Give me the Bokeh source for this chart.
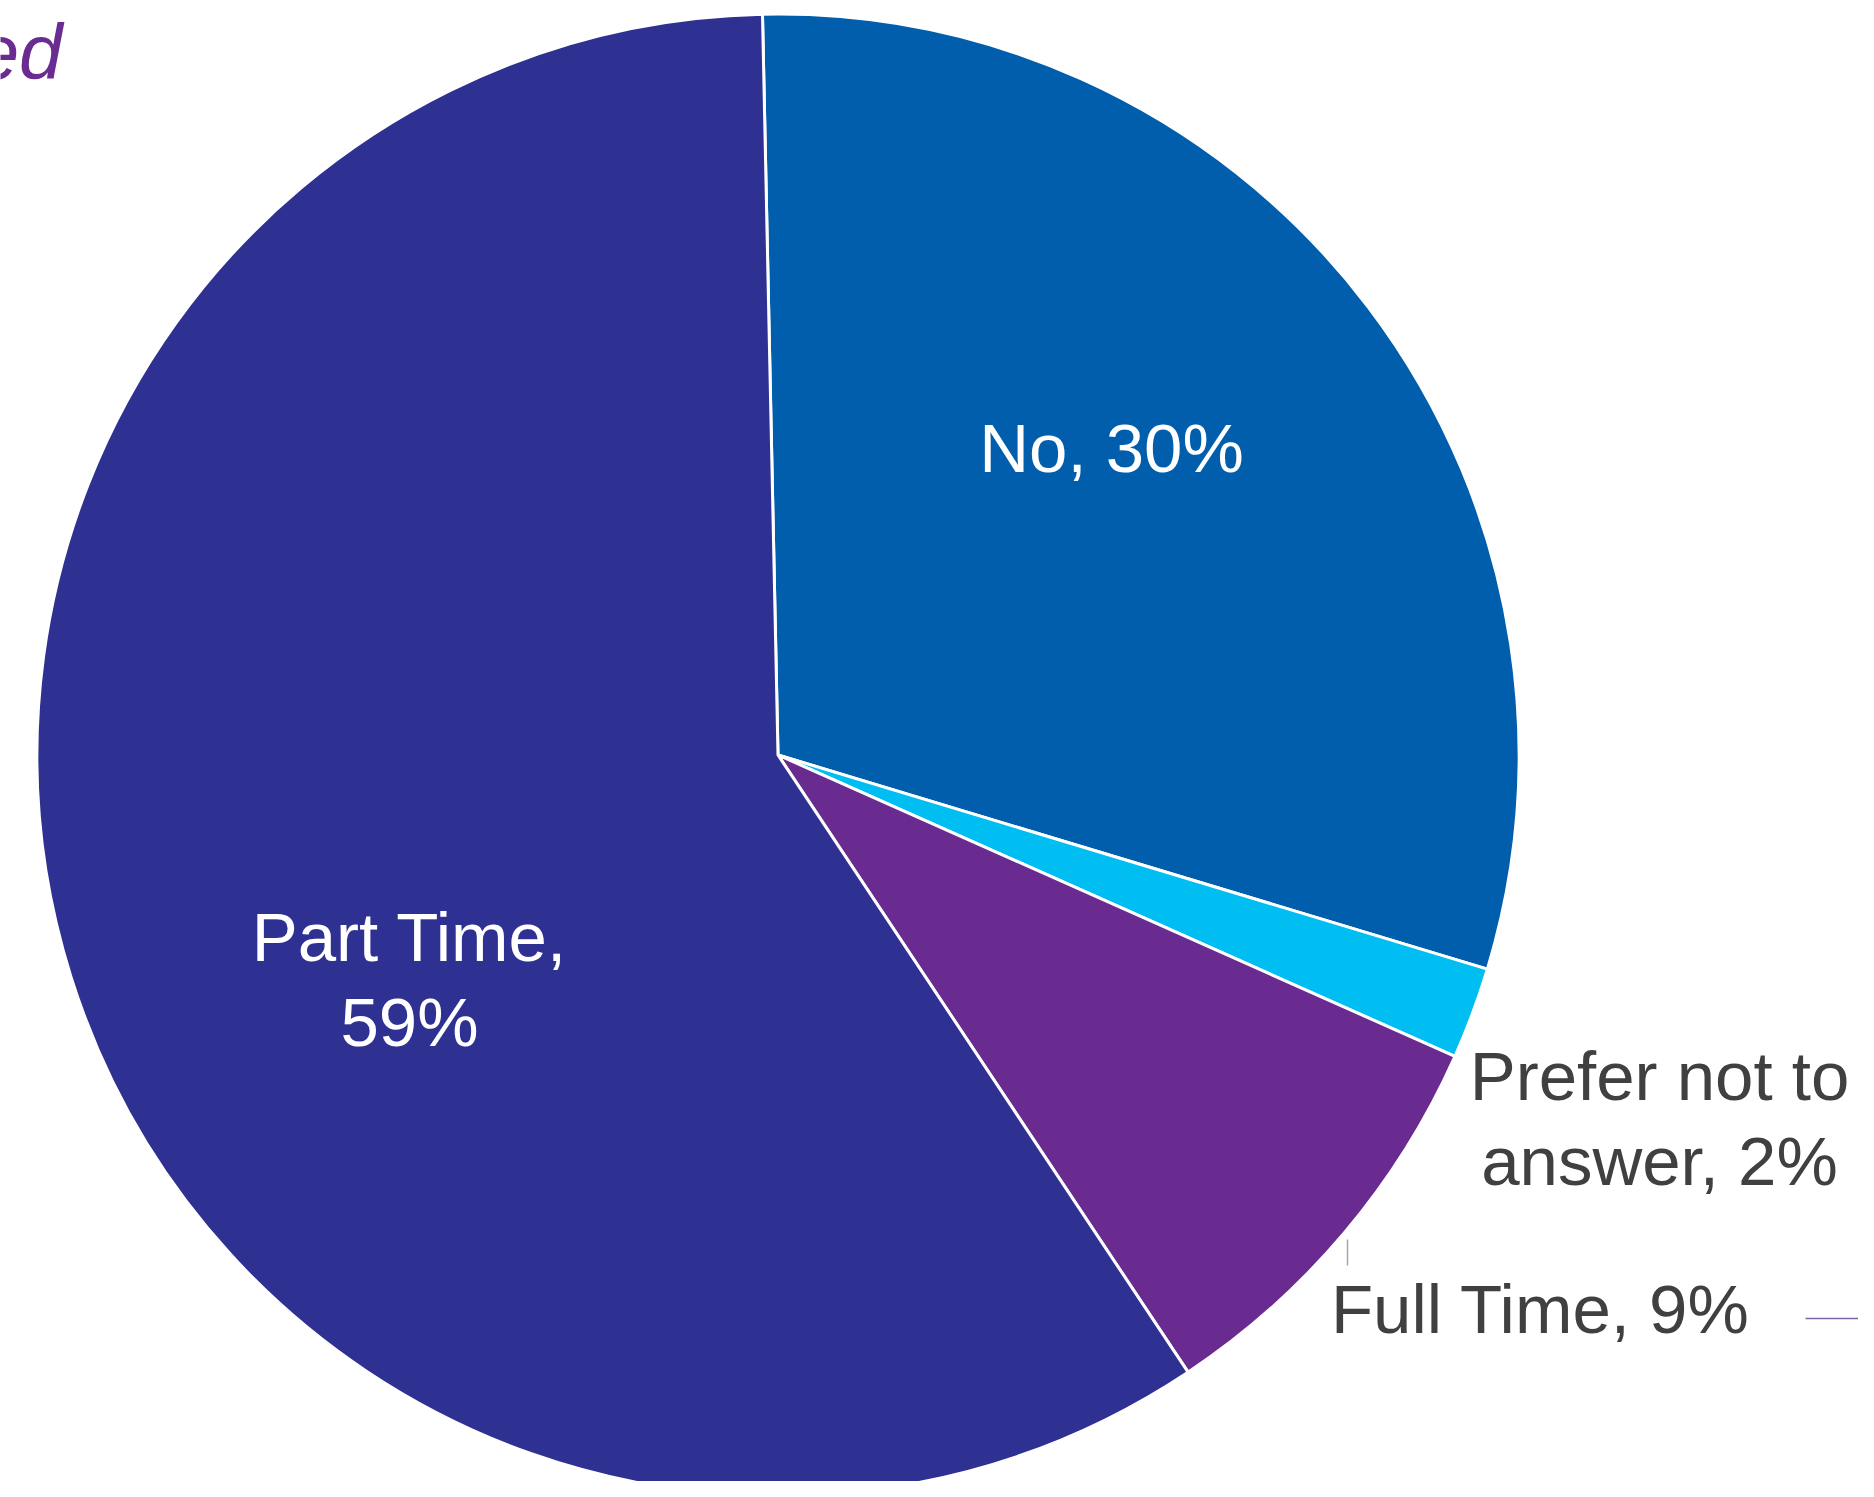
import math
from bokeh.plotting import figure
from bokeh.models import Range1d, ColumnDataSource
from bokeh.core.properties import value
from bokeh.embed import file_html
from bokeh.resources import INLINE

# ---- data ----
categories = ["No", "Prefer not to answer", "Full Time", "Part Time"]
percents = [30, 2, 9, 59]
colors = ["#005EAC", "#00BDF2", "#692B90", "#2E3192"]
label_lines = [["No, 30%"], ["Prefer not to", "answer, 2%"], ["Full Time, 9%"], ["Part Time,", "59%"]]
title_fragment = "ed"

# ---- layout (pixel coordinates of the reference picture) ----
FW, FH = 1858, 1481
def Y(py):
    return FH - py

cx, cy, R = 777.5, Y(754.5), 741.0
start_deg = 91.2  # first slice starts just left of 12 o'clock, runs clockwise

p = figure(width=FW, height=FH, output_backend="svg", toolbar_location=None,
           x_range=Range1d(0, FW), y_range=Range1d(0, FH),
           min_border=0, outline_line_color=None)
p.xaxis.visible = False
p.yaxis.visible = False
p.grid.visible = False
p.background_fill_color = "white"
p.border_fill_color = "white"

total = float(sum(percents))
starts, ends = [], []
a = start_deg
for v in percents:
    b = a - v / total * 360.0
    starts.append(math.radians(a))
    ends.append(math.radians(b))
    a = b

src = ColumnDataSource(dict(cat=categories, start=starts, end=ends, color=colors))
p.wedge(x=cx, y=cy, radius=R, start_angle="start", end_angle="end", direction="clock",
        fill_color="color", line_color="white", line_width=3, source=src)

font = value("Liberation Sans")
fs = "69px"
bshift = 25  # empirical correction of the rendered baseline
# label anchors (center x, baseline y of first line)
anchors = {
    "No": (1111, 473, "white"),
    "Prefer not to answer": (1659, 1101, "#404040"),
    "Full Time": (1540, 1334, "#404040"),
    "Part Time": (409, 962, "white"),
}
line_gap = 85
for cat, lines in zip(categories, label_lines):
    x0, by, col = anchors[cat]
    for i, t in enumerate(lines):
        p.text(x=[x0], y=[Y(by + i * line_gap - bshift)], text=[t], text_font=font,
               text_font_size=fs, text_color=col, text_align="center",
               text_baseline="alphabetic")

# leader lines
p.line(x=[1347, 1347], y=[Y(1239), Y(1265)], line_color="#A6A6A6", line_width=1.5)
p.line(x=[1805, 1880], y=[Y(1318), Y(1318)], line_color="#8064A2", line_width=1.5)

# title fragment (cut off at the left edge in the reference)
p.text(x=[62], y=[Y(75 - 24)], text=[title_fragment], text_font=font, text_font_size="78px",
       text_font_style="italic", text_color="#6A2C91", text_align="right",
       text_baseline="alphabetic")

open("out.html", "w").write(file_html(p, INLINE))
